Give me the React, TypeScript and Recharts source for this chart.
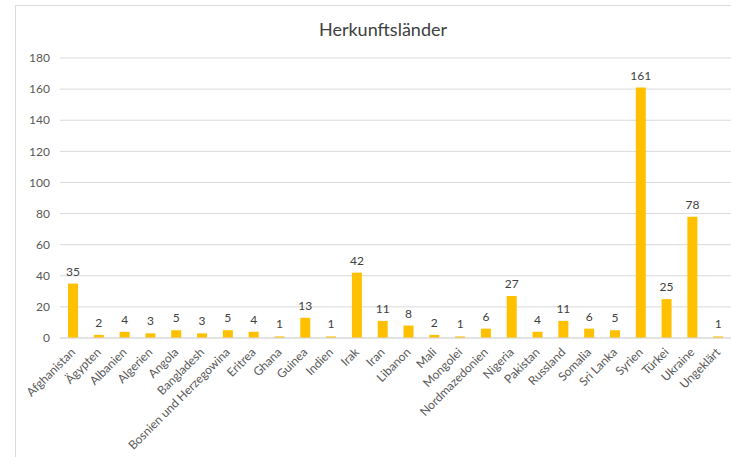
import { BarChart, Bar, XAxis, YAxis, CartesianGrid, LabelList } from 'recharts';

const countries = [
    'Afghanistan', 'Ägypten', 'Albanien', 'Algerien', 'Angola', 'Bangladesh', 'Bosnien und Herzegowina',
    'Eritrea', 'Ghana', 'Guinea', 'Indien', 'Irak', 'Iran', 'Libanon', 'Mali', 'Mongolei',
    'Nordmazedonien', 'Nigeria', 'Pakistan', 'Russland', 'Somalia', 'Sri Lanka', 'Syrien', 'Türkei',
    'Ukraine', 'Ungeklärt',
];
const counts = [35, 2, 4, 3, 5, 3, 5, 4, 1, 13, 1, 42, 11, 8, 2, 1, 6, 27, 4, 11, 6, 5, 161, 25, 78, 1];
const yTicks = [0, 20, 40, 60, 80, 100, 120, 140, 160, 180];

const font = 'Lato, "Open Sans", sans-serif';

function AngledTick({ x, y, payload }: any) {
    const ax = x + 3;
    const ay = y + 15;
    return (
        <text x={ax} y={ay} transform={`rotate(-45 ${ax} ${ay})`} textAnchor="end" fill="#595959" fontSize={12} fontFamily={font}>
            {payload.value}
        </text>
    );
}

export default function App() {
    const data = countries.map((name, i) => ({ name, value: counts[i] }));

    return (
        <div style={{ position: 'absolute', left: 0, top: 0, width: 731, height: 457, background: '#fff', overflow: 'hidden' }}>
            <style>{'body{margin:0}'}</style>
            <div style={{ position: 'absolute', left: 15, top: 5, width: 740, height: 470, border: '1px solid #d9d9d9' }} />
            <div style={{ position: 'absolute', left: 15, right: -20, top: 18, textAlign: 'center', fontFamily: font, fontSize: 18, color: '#404040' }}>
                Herkunftsländer
            </div>
            <BarChart width={731} height={457} data={data} margin={{ top: 58, right: 0, left: 15, bottom: 0 }}>
                <CartesianGrid vertical={false} stroke="#d9d9d9" />
                <XAxis dataKey="name" interval={0} height={119} tickLine={false} tickSize={0} tickMargin={0} axisLine={{ stroke: '#d9d9d9' }} tick={<AngledTick />} />
                <YAxis width={45} domain={[0, 180]} ticks={yTicks} axisLine={false} tickLine={false} tickMargin={4}
                    tick={{ fill: '#595959', fontSize: 12, fontFamily: font }} />
                <Bar dataKey="value" fill="#FFC000" barSize={10} isAnimationActive={false}>
                    <LabelList dataKey="value" position="top" offset={8} fill="#404040" style={{ fill: '#404040' }} fontSize={12} fontFamily={font} />
                </Bar>
            </BarChart>
        </div>
    );
}
